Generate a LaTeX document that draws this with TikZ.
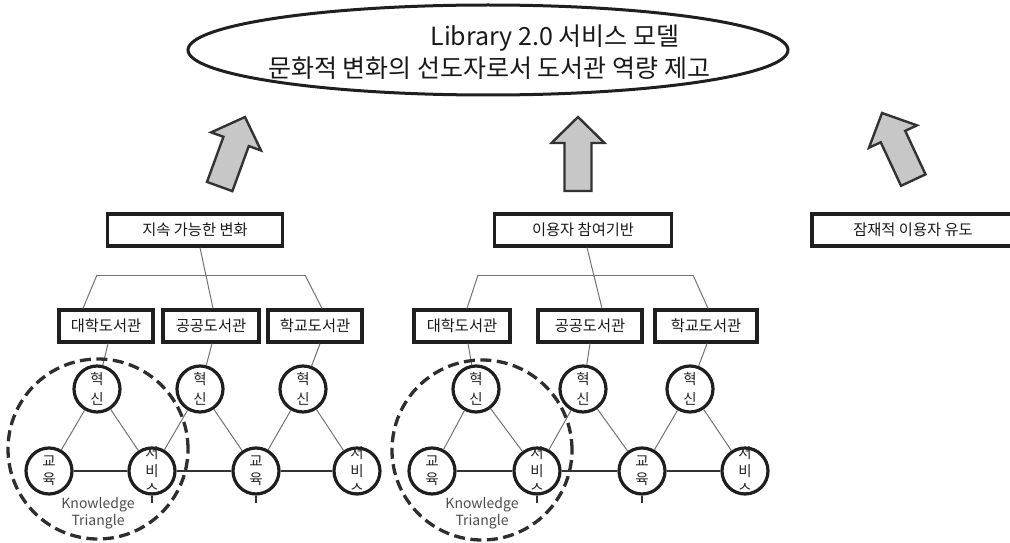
\documentclass[tikz,border=0pt]{standalone}
\usepackage{fontspec}
\setmainfont{Noto Sans CJK KR}
\usetikzlibrary{shapes.geometric}
\begin{document}
\begin{tikzpicture}[x=1pt,y=-1pt,
  box/.style={draw=black!88, line width=3.3pt, minimum height=32pt, inner sep=0pt,
    font=\fontsize{15.3}{17}\selectfont, text=black!90},
  kt/.style={circle, draw=black!88, line width=3.2pt, minimum size=46pt, inner sep=0pt, fill=white},
  kttxt/.style={inner sep=0pt, align=center, text=black!85, font=\fontsize{14.5}{20}\selectfont},
  kttxt3/.style={inner sep=0pt, align=center, text=black!85, font=\fontsize{14.5}{18}\selectfont},
  tree/.style={draw=black!55, line width=1pt},
  base/.style={draw=black!80, line width=1.2pt},
  grp/.style={circle, draw=black!82, line width=3.3pt, dash pattern=on 11pt off 5.5pt, minimum size=180pt, inner sep=0pt},
  grptxt/.style={inner sep=0pt, align=center, text=black!70, font=\fontsize{14}{17}\selectfont},
  blockarrow/.style={fill=black!22, draw=black!80, line width=2.4pt, line join=miter},
]
\useasboundingbox (0,0) rectangle (1010,543);
\clip (0,0) rectangle (1010,543);

% goal ellipse
\node[ellipse, draw=black!88, line width=3pt, minimum width=600pt, minimum height=90pt] (goal) at (488,50) {};
\node[font=\fontsize{25}{28}\selectfont, text=black!90, inner sep=0pt] (goalA) at (555,38) {Library 2.0 서비스 모델};
\node[font=\fontsize{25}{28}\selectfont, text=black!90, inner sep=0pt] (goalB) at (489,68) {문화적 변화의 선도자로서 도서관 역량 제고};

% block arrows
\def\blockarrowpath{(0,0) -- (26.5,26) -- (13.5,26) -- (13.5,74) -- (-13.5,74) -- (-13.5,26) -- (-26.5,26) -- cycle}
\begin{scope}[shift={(245,117)}, rotate=-20]
  \draw[blockarrow] \blockarrowpath;
\end{scope}
\begin{scope}[shift={(578,117)}]
  \draw[blockarrow] \blockarrowpath;
\end{scope}
\begin{scope}[shift={(882,113)}, rotate=25]
  \draw[blockarrow] \blockarrowpath;
\end{scope}

% top boxes
\node[box, minimum width=175pt] (T1) at (195,230) {지속 가능한 변화};
\node[box, minimum width=177pt] (T2) at (583,230) {이용자 참여기반};
\node[box, minimum width=202pt] (T3) at (913,230) {잠재적 이용자 유도};

% library boxes
\node[box, minimum width=94pt] (U1) at (106,326) {대학도서관};
\node[box, minimum width=96pt] (P1) at (211,326) {공공도서관};
\node[box, minimum width=94pt] (S1) at (315,326) {학교도서관};
\node[box, minimum width=96pt] (U2) at (462,326) {대학도서관};
\node[box, minimum width=104pt] (P2) at (590,326) {공공도서관};
\node[box, minimum width=102pt] (S2) at (706,326) {학교도서관};

% tree connectors
\coordinate (B1L) at (97,275);
\coordinate (B1R) at (305,275);
\coordinate (B2L) at (478,275);
\coordinate (B2R) at (693,275);
\draw[tree] ([xshift=5pt]T1.south) -- ([xshift=2pt]P1.north);
\draw[tree] (B1L) -- (B1R);
\draw[tree] (B1L) -- ([xshift=-23pt]U1.north);
\draw[tree] (B1R) -- ([xshift=7pt]S1.north);
\draw[tree] ([xshift=4pt]T2.south) -- ([xshift=12pt]P2.north);
\draw[tree] (B2L) -- (B2R);
\draw[tree] (B2L) -- ([xshift=5pt]U2.north);
\draw[tree] (B2R) -- ([xshift=2pt]S2.north);

% knowledge triangle circles, group 1
\node[kt] (H1) at (97,389) {};
\node[kt] (H2) at (200,389) {};
\node[kt] (H3) at (303,389) {};
\node[kt] (E1) at (49,471) {};
\node[kt] (V1) at (152,471) {};
\node[kt] (E2) at (256,471) {};
\node[kt] (V2) at (357,471) {};
% group 2
\node[kt] (H4) at (476,389) {};
\node[kt] (H5) at (583,389) {};
\node[kt] (H6) at (690,389) {};
\node[kt] (E3) at (432,471) {};
\node[kt] (V3) at (537,471) {};
\node[kt] (E4) at (642,471) {};
\node[kt] (V4) at (745,471) {};

\draw[tree] ([xshift=2pt]U1.south) -- (H1);
\draw[tree] ([xshift=1pt]P1.south) -- (H2);
\draw[tree] ([xshift=5pt]S1.south) -- (H3);
\draw[tree] ([xshift=6pt]U2.south) -- (H4);
\draw[tree] (P2.south) -- (H5);
\draw[tree] ([xshift=1pt]S2.south) -- (H6);

\draw[tree] (H1) -- (E1);
\draw[tree] (H1) -- (V1);
\draw[tree] (H2) -- (V1);
\draw[tree] (H2) -- (E2);
\draw[tree] (H3) -- (E2);
\draw[tree] (H3) -- (V2);
\draw[base] (E1) -- (V1);
\draw[base] (V1) -- (E2);
\draw[base] (E2) -- (V2);
\draw[base] (V1.south) -- ++(0,7);
\draw[base] (E2.south) -- ++(0,7);

\draw[tree] (H4) -- (E3);
\draw[tree] (H4) -- (V3);
\draw[tree] (H5) -- (V3);
\draw[tree] (H5) -- (E4);
\draw[tree] (H6) -- (E4);
\draw[tree] (H6) -- (V4);
\draw[base] (E3) -- (V3);
\draw[base] (V3) -- (E4);
\draw[base] (E4) -- (V4);
\draw[base] (V3.south) -- ++(0,7);
\draw[base] (E4.south) -- ++(0,7);

% circle texts
\foreach \n in {H1,H2,H3,H4,H5,H6} {\node[kttxt] (\n t) at (\n) {혁\\신};}
\foreach \n in {E1,E2,E3,E4} {\node[kttxt3] (\n t) at (\n) {교\\육};}
\foreach \n in {V1,V2,V3,V4} {\node[kttxt3] (\n t) at (\n) {서\\비\\스};}

% dashed group circles
\node[grp] (K1) at (98,449) {};
\node[grp] (K2) at (482,450) {};
\node[grptxt] (K1t) at (98,513) {Knowledge\\Triangle};
\node[grptxt] (K2t) at (482,513) {Knowledge\\Triangle};
\end{tikzpicture}
\end{document}
